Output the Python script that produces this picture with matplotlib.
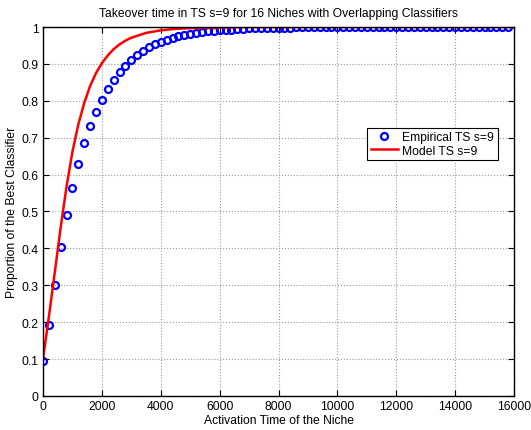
import matplotlib
matplotlib.use("Agg")
import matplotlib.pyplot as plt
import numpy as np

plt.rcParams['font.family'] = ['Liberation Sans', 'DejaVu Sans']
plt.rcParams['font.size'] = 8.7

# empirical takeover, one sample every 200 activations (0 .. 15800)
emp_t = np.arange(0, 16000, 200)
emp_p = [0.094, 0.193, 0.301, 0.405, 0.490, 0.564, 0.629, 0.685, 0.731, 0.769,
         0.803, 0.832, 0.857, 0.877, 0.895, 0.911, 0.925, 0.936, 0.945, 0.953,
         0.960, 0.966, 0.971, 0.975, 0.978, 0.981, 0.984, 0.986, 0.988, 0.990,
         0.991, 0.992, 0.993, 0.994, 0.995, 0.996, 0.996, 0.997, 0.997, 0.998,
         0.998, 0.998, 0.998, 0.999, 0.999, 0.999, 0.999, 0.999, 0.999, 0.999,
         1.0, 1.0, 1.0, 1.0, 1.0, 1.0, 1.0, 1.0, 1.0, 1.0,
         1.0, 1.0, 1.0, 1.0, 1.0, 1.0, 1.0, 1.0, 1.0, 1.0,
         1.0, 1.0, 1.0, 1.0, 1.0, 1.0, 1.0, 1.0, 1.0, 1.0]

# model curve
model_t = [0, 200, 400, 600, 800, 1000, 1200, 1400, 1600, 1800, 2000, 2200,
           2400, 2600, 2800, 3000, 3500, 4000, 4500, 5000, 6000, 7000, 16000]
model_p = [0.100, 0.215, 0.335, 0.457, 0.568, 0.662, 0.736, 0.794, 0.840, 0.875,
           0.902, 0.923, 0.940, 0.953, 0.963, 0.971, 0.984, 0.991, 0.995, 0.997,
           0.999, 1.0, 1.0]

fig = plt.figure(figsize=(5.31, 4.31), dpi=100)
ax = fig.add_axes([0.081, 0.079, 0.887, 0.856])

ax.plot(emp_t, emp_p, 'o', mfc='none', mec='#0000ff', ms=5, mew=1.6,
        label='Empirical TS s=9')
ax.plot(model_t, model_p, '-', color='#ff0000', lw=1.8, label='Model TS s=9')

ax.set_xlim(0, 16000)
ax.set_ylim(0, 1)
ax.set_xticks(np.arange(0, 16001, 2000))
ax.set_yticks(np.arange(0, 1.01, 0.1))
ax.set_yticklabels(['0', '0.1', '0.2', '0.3', '0.4', '0.5', '0.6', '0.7', '0.8', '0.9', '1'])
ax.grid(True, linestyle=':', color='#999999', linewidth=0.8)
ax.tick_params(direction='in', top=True, right=True, length=4, width=0.8, pad=3)
for s in ax.spines.values():
    s.set_linewidth(1.0)

ax.set_title('Takeover time in TS s=9 for 16 Niches with Overlapping Classifiers',
             fontsize=8.7, pad=8)
ax.set_xlabel('Activation Time of the Niche', labelpad=1.5)
ax.set_ylabel('Proportion of the Best Classifier', labelpad=3)

leg = ax.legend(loc='upper right', bbox_to_anchor=(0.966, 0.727), fancybox=False,
                framealpha=1, edgecolor='black', handlelength=2.2, borderpad=0.3,
                labelspacing=0.1, handletextpad=0.4, borderaxespad=0)
leg.get_frame().set_linewidth(0.8)

fig.savefig('out.png', dpi=100)
